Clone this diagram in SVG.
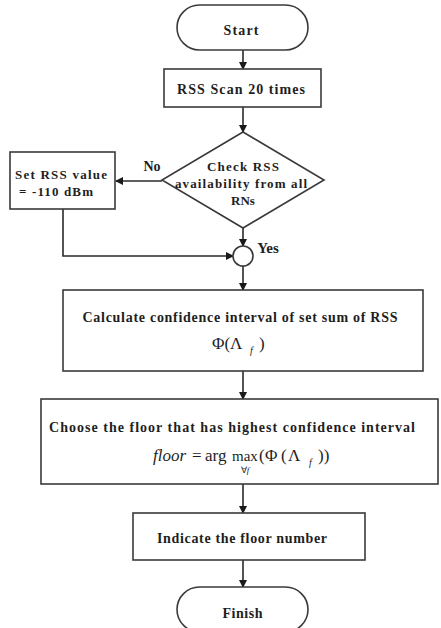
<svg xmlns="http://www.w3.org/2000/svg" width="441" height="628" viewBox="0 0 441 628">
<style>
.shape{fill:#fff;stroke:#3a3a3a;stroke-width:1.6}
.lbl{font-family:"Liberation Serif","Times New Roman",serif;font-weight:bold;font-size:14px;fill:#1e1e1e;text-anchor:middle}
.math{font-family:"Liberation Serif","Times New Roman",serif;font-size:17px;fill:#1e1e1e}
.conn{fill:none;stroke:#2a2a2a;stroke-width:1.6}
</style>
<defs>
<marker id="ah" markerWidth="8" markerHeight="8" refX="7" refY="4" orient="auto" markerUnits="userSpaceOnUse">
<path d="M0,0 L8,4 L0,8 Z" fill="#1a1a1a"/>
</marker>
</defs>
<rect width="441" height="628" fill="#fff"/>
<g id="connectors">
<line class="conn" x1="243" y1="50" x2="243" y2="69" marker-end="url(#ah)"/>
<line class="conn" x1="243" y1="107" x2="243" y2="132" marker-end="url(#ah)"/>
<line class="conn" x1="162" y1="181" x2="116" y2="181" marker-end="url(#ah)"/>
<line class="conn" x1="243" y1="228" x2="243" y2="246" marker-end="url(#ah)"/>
<polyline class="conn" points="63,209 63,256 233,256" marker-end="url(#ah)"/>
<line class="conn" x1="243" y1="266" x2="243" y2="290" marker-end="url(#ah)"/>
<line class="conn" x1="243" y1="371" x2="243" y2="399" marker-end="url(#ah)"/>
<line class="conn" x1="243" y1="484" x2="243" y2="513" marker-end="url(#ah)"/>
<line class="conn" x1="243" y1="560" x2="243" y2="587" marker-end="url(#ah)"/>
<text class="lbl" x="152" y="171">No</text>
<text class="lbl" x="268" y="253" style="font-size:15px">Yes</text>
</g>
<g id="start">
<rect class="shape" x="177" y="5" width="131" height="45" rx="22.5"/>
<text class="lbl" x="241" y="35" textLength="35" lengthAdjust="spacing">Start</text>
</g>
<g id="scan">
<rect class="shape" x="164" y="69" width="157" height="38"/>
<text class="lbl" x="241" y="94" textLength="128" lengthAdjust="spacing">RSS Scan 20 times</text>
</g>
<g id="check">
<polygon class="shape" points="243,132 324,180 243,228 162,180"/>
<text class="lbl" x="243" y="171" style="font-size:13px" textLength="72" lengthAdjust="spacing">Check RSS</text>
<text class="lbl" x="241" y="188" style="font-size:13px" textLength="132" lengthAdjust="spacing">availability from all</text>
<text class="lbl" x="243" y="205" style="font-size:13px">RNs</text>
</g>
<g id="setrss">
<rect class="shape" x="10" y="152" width="105" height="57"/>
<text class="lbl" x="61" y="179" style="font-size:13px" textLength="92" lengthAdjust="spacing">Set RSS value</text>
<text class="lbl" x="56" y="196" style="font-size:13px" textLength="74" lengthAdjust="spacing">= -110 dBm</text>
</g>
<g id="merge">
<circle class="shape" cx="243" cy="256" r="10"/>
</g>
<g id="calc">
<rect class="shape" x="63" y="290" width="360" height="81"/>
<text class="lbl" x="240" y="322" textLength="315" lengthAdjust="spacing">Calculate confidence interval of set sum of RSS</text>
<text class="math" x="212" y="349">Φ(Λ</text>
<text class="math" x="250" y="354" style="font-size:10px;font-style:italic">f</text>
<text class="math" x="259" y="349">)</text>
</g>
<g id="choose">
<rect class="shape" x="41" y="399" width="397" height="85"/>
<text class="lbl" x="232" y="432" textLength="366" lengthAdjust="spacing">Choose the floor that has highest confidence interval</text>
<text class="math" x="153" y="461" style="font-style:italic">floor</text>
<text class="math" x="192" y="461">=</text>
<text class="math" x="205" y="461">arg</text>
<text class="math" x="232" y="461" style="font-size:15px">max</text>
<text class="math" x="259" y="461">(</text>
<text class="math" x="265" y="461">Φ</text>
<text class="math" x="281" y="461">(</text>
<text class="math" x="288" y="461">Λ</text>
<text class="math" x="309" y="466" style="font-size:10px;font-style:italic">f</text>
<text class="math" x="318" y="461">))</text>
<text class="math" x="245" y="473" style="font-size:9px" text-anchor="middle">∀<tspan style="font-style:italic">f</tspan></text>
</g>
<g id="indicate">
<rect class="shape" x="133" y="513" width="232" height="47"/>
<text class="lbl" x="242" y="543" textLength="170" lengthAdjust="spacing">Indicate the floor number</text>
</g>
<g id="finish">
<rect class="shape" x="177" y="587" width="131" height="45" rx="22.5"/>
<text class="lbl" x="242.5" y="618" textLength="40" lengthAdjust="spacing">Finish</text>
</g>
</svg>
